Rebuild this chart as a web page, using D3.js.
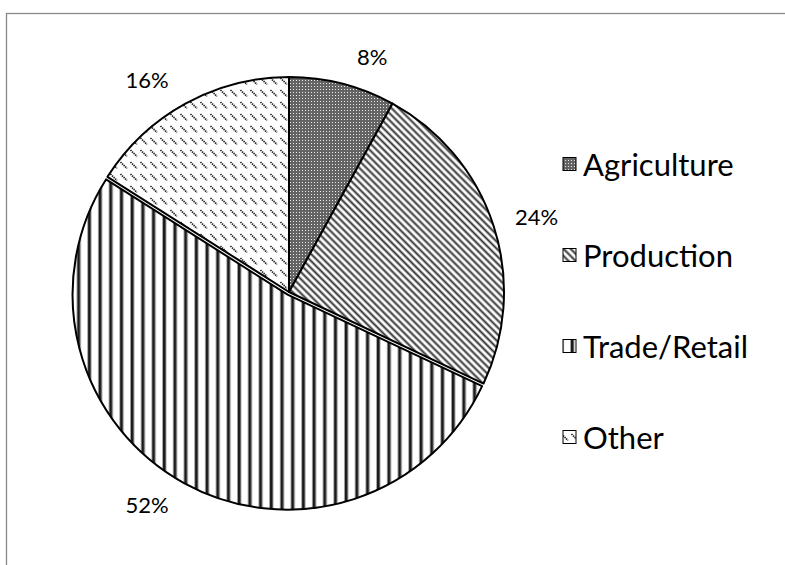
<!DOCTYPE html>
<html><head><meta charset="utf-8">
<script src="https://cdn.jsdelivr.net/npm/d3@7/dist/d3.min.js"></script>
<style>body{margin:0;background:#fff;} svg{display:block;}</style>
</head><body>
<svg id="chart" width="785" height="565"></svg>
<script>
const categories = ["Agriculture", "Production", "Trade/Retail", "Other"];
const values = [8, 24, 52, 16];
const labels = ["8%", "24%", "52%", "16%"];
const patternIds = ["pAgri", "pProd", "pTrade", "pOther"];

const svg = d3.select("#chart");
const W = 785, H = 565;
svg.append("rect").attr("width", W).attr("height", H).attr("fill", "#fff");
// chart frame
svg.append("rect").attr("x", 6.5).attr("y", 13.5).attr("width", W + 10).attr("height", H + 10)
  .attr("fill", "none").attr("stroke", "#888").attr("stroke-width", 1.3);

const defs = svg.append("defs");
// Agriculture: dotted grid, medium-dark gray
const pa = defs.append("pattern").attr("id", "pAgri").attr("patternUnits", "userSpaceOnUse")
  .attr("width", 3).attr("height", 3);
pa.append("rect").attr("width", 3).attr("height", 3).attr("fill", "#646464");
pa.append("rect").attr("x", 1).attr("y", 1).attr("width", 1).attr("height", 1).attr("fill", "#e8e8e8");
// Production: diagonal "\" stripes
const pp = defs.append("pattern").attr("id", "pProd").attr("patternUnits", "userSpaceOnUse")
  .attr("width", 10).attr("height", 5).attr("patternTransform", "rotate(45)");
pp.append("rect").attr("width", 10).attr("height", 5).attr("fill", "#fff");
pp.append("rect").attr("y", 1.5).attr("width", 10).attr("height", 2).attr("fill", "#333");
// Trade/Retail: vertical lines
const pt = defs.append("pattern").attr("id", "pTrade").attr("patternUnits", "userSpaceOnUse")
  .attr("width", 10.7).attr("height", 10);
pt.append("rect").attr("width", 10.7).attr("height", 10).attr("fill", "#fff");
pt.append("rect").attr("x", 3).attr("width", 4.4).attr("height", 10).attr("fill", "#aaa");
pt.append("rect").attr("x", 3.8).attr("width", 2.6).attr("height", 10).attr("fill", "#1a1a1a");
// Other: dashed diagonal "\"
const po = defs.append("pattern").attr("id", "pOther").attr("patternUnits", "userSpaceOnUse")
  .attr("width", 10).attr("height", 12);
po.append("rect").attr("width", 10).attr("height", 12).attr("fill", "#fff");
po.append("line").attr("x1", 1.5).attr("y1", 2).attr("x2", 8).attr("y2", 8.5)
  .attr("stroke", "#222").attr("stroke-width", 1.7).attr("stroke-dasharray", "1.4,0.8");

const cx = 289, cy = 292, R = 215;
const pie = d3.pie().sort(null).value(d => d)(values);
const arc = d3.arc().innerRadius(0).outerRadius(R);
const g = svg.append("g").attr("transform", `translate(${cx},${cy})`);

const explode = [0, 0, 3, 0];
g.selectAll("path.slice").data(pie).join("path").attr("class", "slice")
  .attr("d", arc)
  .attr("transform", (d, i) => {
    const a = (d.startAngle + d.endAngle) / 2;
    return `translate(${explode[i] * Math.sin(a)},${-explode[i] * Math.cos(a)})`;
  })
  .attr("fill", (d, i) => `url(#${patternIds[i]})`)
  .attr("stroke", "#000").attr("stroke-width", 2).attr("stroke-linejoin", "round");

const font = "Lato, 'Open Sans', sans-serif";
// data labels (best-fit outside)
g.selectAll("text.lbl").data(pie).join("text").attr("class", "lbl")
  .each(function(d, i) {
    const a = (d.startAngle + d.endAngle) / 2;
    const t = d3.select(this).attr("font-family", font).attr("font-size", 22).attr("fill", "#000")
      .attr("dominant-baseline", "central").attr("text-anchor", "middle").text(labels[i]);
    const w = this.getComputedTextLength();
    const sx = Math.sin(a) >= 0 ? 1 : -1;
    t.attr("x", 225 * Math.sin(a) + sx * (w / 2 + 12)).attr("y", -243 * Math.cos(a));
  });

// legend
const ly = d3.scalePoint().domain(categories).range([164, 437]);
const lg = svg.append("g");
categories.forEach((c, i) => {
  const y = ly(c);
  lg.append("rect").attr("x", 563).attr("y", y - 6.5).attr("width", 13).attr("height", 13)
    .attr("fill", `url(#${patternIds[i]})`).attr("stroke", "#000").attr("stroke-width", 1);
  lg.append("text").attr("x", 583).attr("y", y).attr("dominant-baseline", "central")
    .attr("font-family", font).attr("font-size", 31).attr("fill", "#000").text(c);
});
</script>
</body></html>
